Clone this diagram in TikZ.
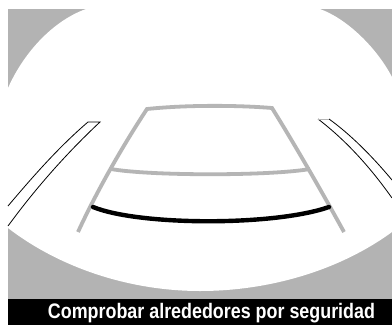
\documentclass[tikz,border=0pt]{standalone}
\usepackage{fontspec}
\setmainfont{Liberation Sans}
\definecolor{bggray}{HTML}{B3B3B3}
\definecolor{guidegray}{HTML}{B5B5B5}
\tikzset{
  guide/.style={draw=guidegray, line width=3.8pt, line join=miter},
  warnline/.style={draw=black, line width=4.4pt, line cap=round},
  sliver/.style={draw=black, line width=0.8pt},
}
\begin{document}
\begin{tikzpicture}[x=1pt,y=-1pt]
\useasboundingbox (0,0) rectangle (392,325);
% background gray
\fill[bggray] (8,9) rectangle (392,299);
% white view area
\fill[white] (86,9) -- (320,9)
  .. controls (345,18) and (375,45) .. (392,77)
  -- (392,232)
  .. controls (340,270) and (270,291) .. (200,291)
  .. controls (130,291) and (60,268) .. (8,228)
  -- (8,88)
  .. controls (25,50) and (55,20) .. (86,9) -- cycle;
% left sliver
\coordinate (l1) at (88,122);
\coordinate (l2) at (100,122);
\coordinate (l3) at (8,206);
\coordinate (l4) at (8,226);
\draw[sliver] (l3) .. controls (35,174) and (60,146) .. (l1) -- (l2)
  .. controls (70,150) and (38,185) .. (l4);
% right sliver
\coordinate (r1) at (318,119);
\coordinate (r2) at (329,119);
\coordinate (r3) at (392,180);
\coordinate (r4) at (392,198);
\draw[sliver] (r2) .. controls (350,134) and (372,156) .. (r3);
\draw[sliver] (r1) .. controls (343,138) and (368,164) .. (r4);
\draw[draw=guidegray, line width=0.8pt] (r1) -- (r2);
% guide trapezoid
\coordinate (gbl) at (78,232);
\coordinate (gtl) at (147,109);
\coordinate (gtr) at (272,108);
\coordinate (gbr) at (344,232);
\draw[guide] (gbl) .. controls (95,195) and (120,150) .. (gtl)
  .. controls (185,105) and (235,105) .. (gtr)
  .. controls (295,145) and (322,192) .. (gbr);
% middle gray line
\coordinate (ml) at (111,169);
\coordinate (mr) at (310,169);
\draw[guide] (ml) .. controls (150,176) and (270,176) .. (mr);
% black line
\coordinate (bl) at (93,207);
\coordinate (br) at (329,207);
\draw[warnline] (bl) .. controls (140,226) and (275,226) .. (br);
% bottom bar
\fill[black] (8,299) rectangle (392,325);
\node[text=white, font=\fontsize{21}{22}\selectfont\bfseries, inner sep=0pt, anchor=base] (caption) at (211.5,318)
  {\resizebox{327pt}{\height}{Comprobar alrededores por seguridad}};
\end{tikzpicture}
\end{document}
